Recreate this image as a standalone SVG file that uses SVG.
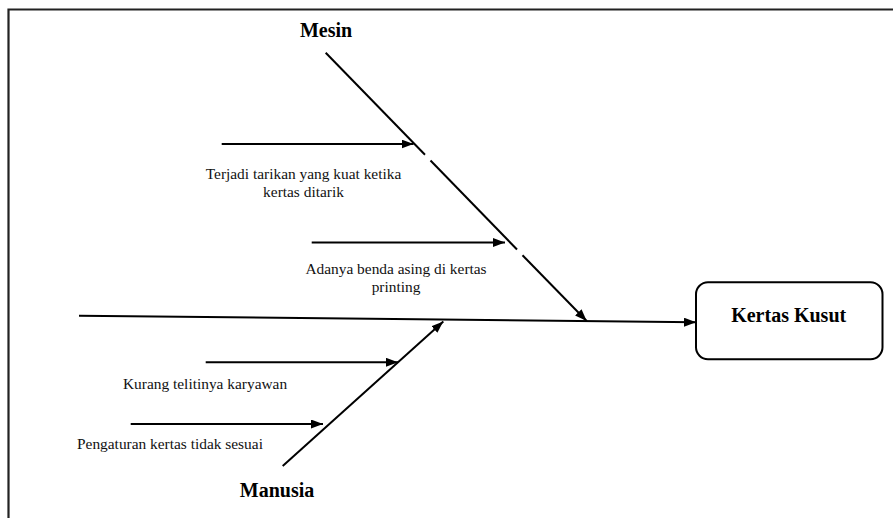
<svg xmlns="http://www.w3.org/2000/svg" width="893" height="518" viewBox="0 0 893 518">
<style>
.ln{stroke:#000;stroke-width:2;fill:none}
.lbl{font-family:'Liberation Serif',Tinos,'Times New Roman','DejaVu Serif','Noto Serif',serif;font-size:15.4px;fill:#111}
.ttl{font-family:'Liberation Serif',Tinos,'Times New Roman','DejaVu Serif','Noto Serif',serif;font-size:20px;font-weight:bold;fill:#000}
.frame{stroke:#222;stroke-width:2.2;fill:none}
</style>
<defs>
<marker id="ah" markerUnits="userSpaceOnUse" markerWidth="13" markerHeight="9" refX="12" refY="4.5" orient="auto">
<path d="M0,0 L12,4.5 L0,9 z" fill="#000"/>
</marker>
</defs>
<rect width="893" height="518" fill="#fff"/>
<path class="frame" d="M8.5,518 V9.5 H893"/>
<g id="connectors">
<line class="ln" x1="79" y1="315.7" x2="696" y2="322.3" marker-end="url(#ah)"/>
<line class="ln" x1="325.7" y1="52.7" x2="425" y2="154.8"/>
<line class="ln" x1="430.5" y1="160.5" x2="517" y2="249.5"/>
<line class="ln" x1="522.5" y1="255.2" x2="586.7" y2="321" marker-end="url(#ah)"/>
<line class="ln" x1="221.7" y1="144" x2="413.5" y2="144" marker-end="url(#ah)"/>
<line class="ln" x1="311.7" y1="242.5" x2="505" y2="242.5" marker-end="url(#ah)"/>
<line class="ln" x1="282.7" y1="466" x2="443.3" y2="321.5" marker-end="url(#ah)"/>
<line class="ln" x1="205.7" y1="362.3" x2="398" y2="362.3" marker-end="url(#ah)"/>
<line class="ln" x1="130.7" y1="424" x2="323" y2="424" marker-end="url(#ah)"/>
</g>
<g id="mesin"><text class="ttl" x="326" y="37" text-anchor="middle">Mesin</text></g>
<g id="manusia"><text class="ttl" x="277" y="497" text-anchor="middle">Manusia</text></g>
<g id="cause-tarikan">
<text class="lbl" x="303.5" y="179" text-anchor="middle">Terjadi tarikan yang kuat ketika</text>
<text class="lbl" x="303.5" y="196.5" text-anchor="middle">kertas ditarik</text>
</g>
<g id="cause-benda">
<text class="lbl" x="396" y="274" text-anchor="middle">Adanya benda asing di kertas</text>
<text class="lbl" x="396" y="291.5" text-anchor="middle">printing</text>
</g>
<g id="cause-kurang"><text class="lbl" x="123" y="389">Kurang telitinya karyawan</text></g>
<g id="cause-pengaturan"><text class="lbl" x="77" y="449">Pengaturan kertas tidak sesuai</text></g>
<g id="effect">
<rect x="696" y="282.3" width="186.5" height="77" rx="12" ry="12" fill="#fff" stroke="#000" stroke-width="2"/>
<text class="ttl" x="788.7" y="322" text-anchor="middle">Kertas Kusut</text>
</g>
</svg>
